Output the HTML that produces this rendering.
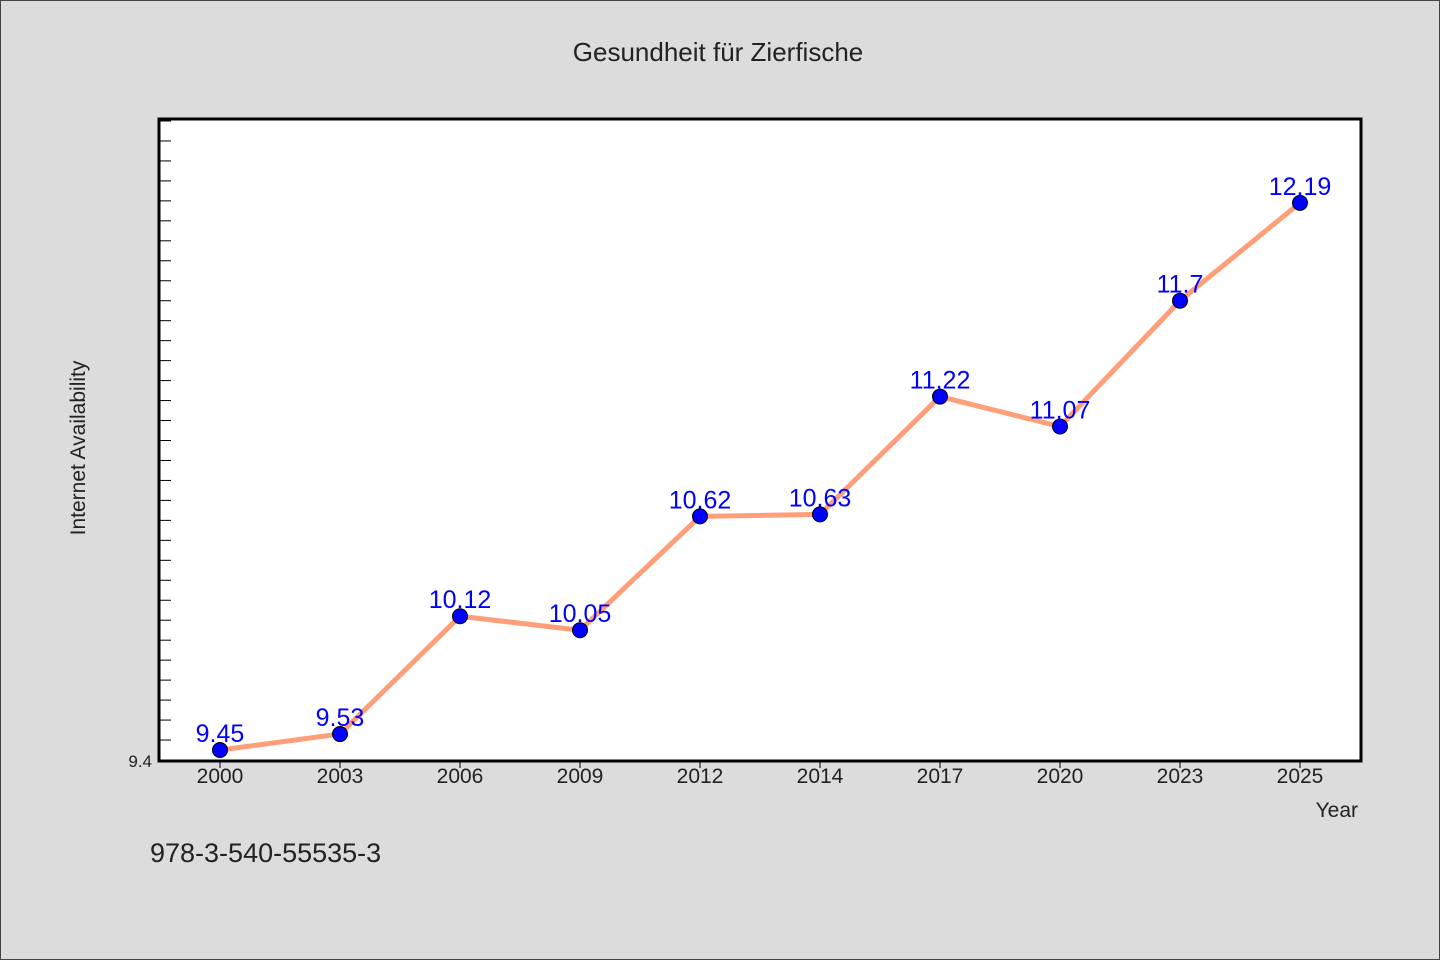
<!DOCTYPE html>
<html><head><meta charset="utf-8"><style>
body{margin:0;background:#dcdcdc;}
svg{display:block;font-family:"WenQuanYi Zen Hei","Liberation Sans",sans-serif;}
</style></head><body>
<svg id="c" width="1440" height="960">
<rect x="0.5" y="0.5" width="1439" height="959" fill="#dcdcdc" stroke="#444"/>
<text x="718" y="61" text-anchor="middle" font-size="26" fill="#222">Gesundheit für Zierfische</text>
<rect x="159" y="119" width="1202" height="642" fill="#fff"/>
<g id="ticks"></g>
<path d="M159,119 V761 H1361 V119 Z" fill="none" stroke="#000" stroke-width="3"/>
<g id="marks"></g>
<text x="85" y="448" text-anchor="middle" font-size="21" fill="#222" transform="rotate(-90 85 448)">Internet Availability</text>
<text x="1358" y="817" text-anchor="end" font-size="21" fill="#222">Year</text>
<text x="150" y="862" font-size="27" fill="#222">978-3-540-55535-3</text>
</svg>
<script>
const years=["2000","2003","2006","2009","2012","2014","2017","2020","2023","2025"];
const values=[9.45,9.53,10.12,10.05,10.62,10.63,11.22,11.07,11.7,12.19];
const labels=["9.45","9.53","10.12","10.05","10.62","10.63","11.22","11.07","11.7","12.19"];
const yMin=9.4, yMax=12.61;
const NS="http://www.w3.org/2000/svg";
const L=160,R=1360,T=119,B=760;
const x=i=>L+(R-L)/years.length*(i+0.5);
const y=v=>B-(v-yMin)/(yMax-yMin)*(B-T);
function mk(t,a,p){const e=document.createElementNS(NS,t);for(const k in a)e.setAttribute(k,a[k]);p.appendChild(e);return e;}
const tk=document.getElementById('ticks'),mg=document.getElementById('marks');
for(let v=yMin+0.1;v<yMax;v+=0.1){
 const l=mk('line',{x1:159,x2:171,y1:y(v),y2:y(v),stroke:'#000','stroke-width':1},tk);
 
 
}
const yl=mk('text',{x:152,y:767,'text-anchor':'end','font-size':17,fill:'#222'},tk);yl.textContent="9.4";


years.forEach((yr,i)=>{
 const t=mk('line',{x1:x(i),x2:x(i),y1:761,y2:768,stroke:'#000'},tk);
 
 
 const tx=mk('text',{x:x(i),y:783,'text-anchor':'middle','font-size':21,fill:'#222'},tk);tx.textContent=yr;
 
 
});
const ln=mk('polyline',{points:values.map((v,i)=>x(i)+','+y(v)).join(' '),fill:'none',stroke:'#ff9f7a','stroke-width':5},mg);


values.forEach((v,i)=>{
 const c=mk('circle',{cx:x(i),cy:y(v),r:7.5,fill:'#0000ff',stroke:'#000','stroke-width':1},mg);
 
 
});
values.forEach((v,i)=>{
 const t=mk('text',{x:x(i),y:y(v)-8,'text-anchor':'middle','font-size':25,fill:'#0000ff'},mg);t.textContent=labels[i];
 
 
});
</script>
</body></html>
